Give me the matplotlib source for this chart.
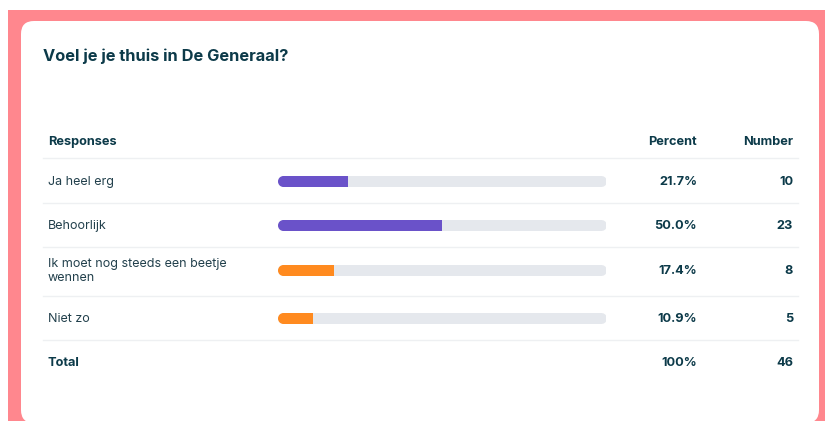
import matplotlib.pyplot as plt
from matplotlib.patches import FancyBboxPatch, Rectangle

plt.rcParams['font.family'] = ['Inter', 'DejaVu Sans']

# --- DADES --- #
title = 'Voel je je thuis in De Generaal?'
responses = ['Ja heel erg', 'Behoorlijk', 'Ik moet nog steeds een beetje\nwennen', 'Niet zo']
percent = [21.7, 50.0, 17.4, 10.9]
number = [10, 23, 8, 5]
bar_colors = ['#6a52c9', '#6a52c9', '#ff8a1f', '#ff8a1f']
total_percent = '100%'
total_number = 46

# --- ESTILS --- #
W, H = 825, 421
pink = '#ff878e'
dark = '#0c3a49'
body = '#22404c'
track = '#e5e8ed'
sep = '#eef0f2'

fig = plt.figure(figsize=(W / 100, H / 100), dpi=100)
ax = fig.add_axes([0, 0, 1, 1])
ax.set_xlim(0, W)
ax.set_ylim(H, 0)
ax.axis('off')

# fons rosa i targeta blanca
ax.add_patch(Rectangle((8, 10), W - 8, H - 10, color=pink, lw=0))
ax.add_patch(FancyBboxPatch((21, 21), 798, 402, boxstyle='round,pad=0,rounding_size=13',
                            fc='white', ec='none'))

ax.text(43, 56, title, fontsize=11.8, fontweight='bold', color=dark, va='center')

# capçalera
ax.text(48, 142, 'Responses', fontsize=9.2, fontweight='bold', color=dark, va='center')
ax.text(697, 142, 'Percent', fontsize=9.2, fontweight='bold', color=dark, va='center', ha='right')
ax.text(793, 142, 'Number', fontsize=9.2, fontweight='bold', color=dark, va='center', ha='right')

row_y = [181, 225, 270, 318]
sep_y = [158, 203, 247, 296, 340]
for y in sep_y:
    ax.plot([43, 798], [y, y], color=sep, lw=1)

# eix de barres: x en percentatge, y en píxels
bx0, bw = 277, 329
axb = fig.add_axes([bx0 / W, 0, bw / W, 1])
axb.set_xlim(0, 100)
axb.set_ylim(H, 0)
axb.axis('off')
bar_h = 11
r = (bar_h / 2) / (bw / 100)  # radi en unitats de percentatge
lw_pt = bar_h * 72 / 100

for lab, p, n, c, y in zip(responses, percent, number, bar_colors, row_y):
    ax.text(48, y + 1, lab, fontsize=9, color=body, va='center', linespacing=1.25)
    axb.plot([r, 100 - r], [y, y], color=track, lw=lw_pt, solid_capstyle='round', zorder=1)
    axb.barh(y, p - r, left=r, height=bar_h, color=c, lw=0, zorder=3)
    axb.plot([r], [y], 'o', color=c, ms=lw_pt, mew=0, zorder=3)
    ax.text(697, y + 1, f'{p:.1f}%', fontsize=9.2, fontweight='bold', color=dark, va='center', ha='right')
    ax.text(793, y + 1, str(n), fontsize=9.2, fontweight='bold', color=dark, va='center', ha='right')

ax.text(48, 363, 'Total', fontsize=9.2, fontweight='bold', color=dark, va='center')
ax.text(697, 363, total_percent, fontsize=9.2, fontweight='bold', color=dark, va='center', ha='right')
ax.text(793, 363, str(total_number), fontsize=9.2, fontweight='bold', color=dark, va='center', ha='right')

fig.savefig('out.png', dpi=100)
